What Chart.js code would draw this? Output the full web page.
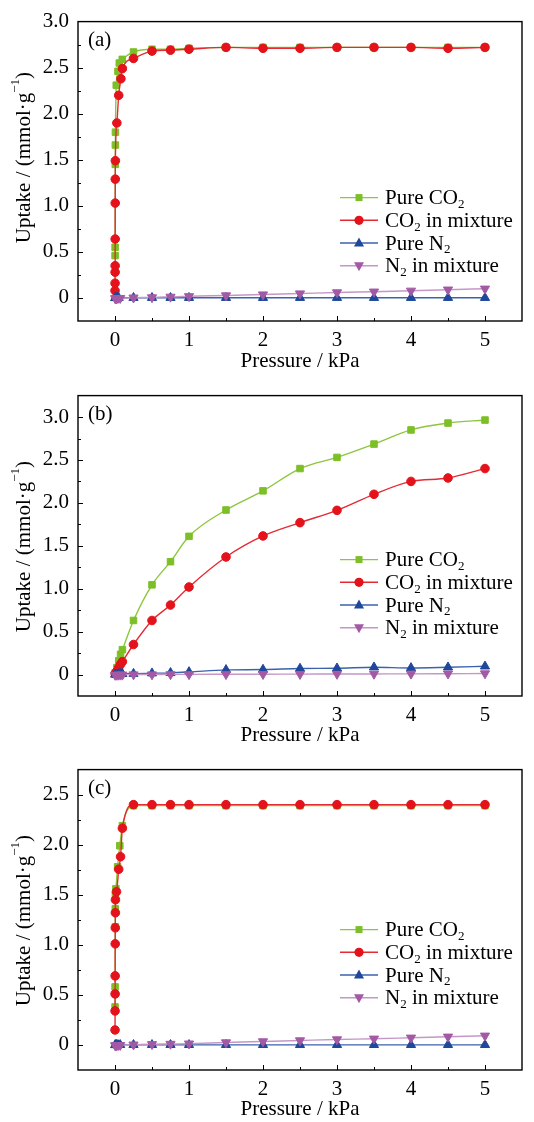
<!DOCTYPE html>
<html>
<head>
<meta charset="utf-8">
<script src="https://cdn.jsdelivr.net/npm/chart.js@4.4.1/dist/chart.umd.min.js"></script>
<style>
  html, body { margin: 0; padding: 0; background: #fff; }
  canvas { display: block; }
</style>
</head>
<body>
<canvas id="chartA" width="534" height="374"></canvas>
<canvas id="chartB" width="534" height="374"></canvas>
<canvas id="chartC" width="534" height="374"></canvas>
<script>
// ---- panel (a) ----
const aPureCO2X = [0.001, 0.0015, 0.004, 0.005, 0.006, 0.017, 0.04, 0.058, 0.098, 0.25, 0.5, 0.75, 1, 1.5, 2, 2.5, 3, 3.5, 4, 4.5, 5];
const aPureCO2Y = [0.46, 0.55, 1.45, 1.66, 1.80, 2.31, 2.46, 2.55, 2.59, 2.67, 2.70, 2.70, 2.71, 2.72, 2.72, 2.72, 2.72, 2.72, 2.72, 2.72, 2.72];
const aMixCO2X = [0.0005, 0.001, 0.0015, 0.002, 0.0025, 0.003, 0.004, 0.005, 0.025, 0.05, 0.08, 0.1, 0.25, 0.5, 0.75, 1, 1.5, 2, 2.5, 3, 3.5, 4, 4.5, 5];
const aMixCO2Y = [0.08, 0.16, 0.28, 0.35, 0.64, 1.03, 1.29, 1.49, 1.90, 2.20, 2.38, 2.49, 2.60, 2.68, 2.69, 2.70, 2.72, 2.71, 2.71, 2.72, 2.72, 2.72, 2.71, 2.72];
const aPureN2X = [0.002, 0.01, 0.02, 0.03, 0.05, 0.25, 0.5, 0.75, 1, 1.5, 2, 2.5, 3, 3.5, 4, 4.5, 5];
const aPureN2Y = [0, 0.002, 0.002, 0.002, 0.002, 0.002, 0.002, 0.002, 0.002, 0.002, 0.002, 0.002, 0.002, 0.002, 0.002, 0.002, 0.002];
const aMixN2X = [0.003, 0.01, 0.02, 0.04, 0.07, 0.25, 0.5, 0.75, 1, 1.5, 2, 2.5, 3, 3.5, 4, 4.5, 5];
const aMixN2Y = [-0.005, -0.005, -0.004, -0.003, -0.002, 0.003, 0.006, 0.012, 0.018, 0.027, 0.037, 0.048, 0.06, 0.068, 0.078, 0.09, 0.10];

// ---- panel (b) ----
const bCO2X = [0.002, 0.025, 0.05, 0.075, 0.1, 0.25, 0.5, 0.75, 1, 1.5, 2, 2.5, 3, 3.5, 4, 4.5, 5];
const bPureCO2Y = [0.02, 0.08, 0.16, 0.235, 0.29, 0.63, 1.045, 1.315, 1.61, 1.917, 2.14, 2.40, 2.53, 2.685, 2.85, 2.93, 2.965];
const bMixCO2Y = [0.01, 0.04, 0.08, 0.12, 0.15, 0.35, 0.63, 0.81, 1.02, 1.37, 1.615, 1.77, 1.913, 2.10, 2.25, 2.29, 2.40];
const bN2X = [0.002, 0.025, 0.05, 0.075, 0.1, 0.25, 0.5, 0.75, 1, 1.5, 2, 2.5, 3, 3.5, 4, 4.5, 5];
const bPureN2Y = [0, 0.003, 0.005, 0.007, 0.008, 0.01, 0.015, 0.02, 0.03, 0.054, 0.058, 0.07, 0.073, 0.085, 0.077, 0.085, 0.096];
const bMixN2Y = [-0.005, -0.005, -0.004, -0.003, -0.003, 0, 0, 0.002, 0.002, 0.003, 0.004, 0.005, 0.006, 0.007, 0.008, 0.01, 0.012];

// ---- panel (c) ----
const cPureCO2X = [0.0008, 0.0012, 0.003, 0.004, 0.006, 0.012, 0.035, 0.065, 0.1, 0.25, 0.5, 0.75, 1, 1.5, 2, 2.5, 3, 3.5, 4, 4.5, 5];
const cPureCO2Y = [0.38, 0.58, 1.18, 1.36, 1.50, 1.56, 1.78, 1.99, 2.19, 2.39, 2.39, 2.39, 2.39, 2.39, 2.39, 2.39, 2.39, 2.39, 2.39, 2.39, 2.39];
const cMixCO2X = [0.0005, 0.001, 0.0015, 0.002, 0.003, 0.004, 0.005, 0.006, 0.02, 0.05, 0.075, 0.1, 0.25, 0.5, 0.75, 1, 1.5, 2, 2.5, 3, 3.5, 4, 4.5, 5];
const cMixCO2Y = [0.15, 0.34, 0.51, 0.69, 1.01, 1.17, 1.32, 1.45, 1.53, 1.755, 1.88, 2.165, 2.40, 2.40, 2.40, 2.40, 2.40, 2.40, 2.40, 2.40, 2.40, 2.40, 2.40, 2.40];
const cN2X = [0.002, 0.01, 0.02, 0.04, 0.07, 0.25, 0.5, 0.75, 1, 1.5, 2, 2.5, 3, 3.5, 4, 4.5, 5];
const cPureN2Y = [0, 0.001, 0.001, 0.001, 0.001, 0.001, 0.001, 0.001, 0.001, 0.001, 0.001, 0.001, 0.001, 0.001, 0.001, 0.001, 0.001];
const cMixN2Y = [-0.005, -0.005, -0.004, -0.003, -0.002, 0.003, 0.007, 0.01, 0.013, 0.025, 0.035, 0.045, 0.055, 0.062, 0.072, 0.082, 0.092];

// ticks / text
const xTickLabels = [0, 1, 2, 3, 4, 5];
const seriesNames = [
  [['Pure CO', 0], ['2', 1]],
  [['CO', 0], ['2', 1], [' in mixture', 0]],
  [['Pure N', 0], ['2', 1]],
  [['N', 0], ['2', 1], [' in mixture', 0]]
];
const xTitle = 'Pressure / kPa';
const yTitleParts = [['Uptake / (mmol·g', 0], ['\u22121', 2], [')', 0]];

const FONT = "'Liberation Serif', 'Times New Roman', serif";
const markerColors = ['#7cbf26', '#e3121b', '#1f479b', '#a35aa5'];
const lineColors = ['#8dc63f', '#e42a33', '#3b62ad', '#c497c7'];
const markerStyles = ['rect', 'circle', 'up', 'down'];

function pts(xs, ys) {
  return xs.map((x, i) => ({ x: x, y: ys[i] }));
}

function makeDataset(idx, data) {
  const st = markerStyles[idx];
  return {
    label: seriesNames[idx].map(p => p[0]).join(''),
    data: data,
    borderColor: lineColors[idx],
    backgroundColor: markerColors[idx],
    pointBackgroundColor: markerColors[idx],
    pointBorderColor: markerColors[idx],
    pointBorderWidth: 1,
    borderWidth: 1.4,
    pointStyle: st === 'rect' ? 'rect' : st === 'circle' ? 'circle' : 'triangle',
    rotation: st === 'down' ? 180 : 0,
    pointRadius: st === 'rect' ? 4.6 : st === 'circle' ? 4.3 : 5.3,
    cubicInterpolationMode: 'monotone',
    order: 4 - idx
  };
}

function drawMarker(ctx, style, x, y, color) {
  ctx.fillStyle = color;
  ctx.beginPath();
  if (style === 'rect') {
    ctx.rect(x - 3.5, y - 3.5, 7, 7);
  } else if (style === 'circle') {
    ctx.arc(x, y, 4.6, 0, Math.PI * 2);
  } else if (style === 'up') {
    ctx.moveTo(x, y - 5.5); ctx.lineTo(x + 5, y + 3.5); ctx.lineTo(x - 5, y + 3.5); ctx.closePath();
  } else {
    ctx.moveTo(x, y + 5.5); ctx.lineTo(x + 5, y - 3.5); ctx.lineTo(x - 5, y - 3.5); ctx.closePath();
  }
  ctx.fill();
}

// draws text pieces; kind 0 normal, 1 subscript, 2 superscript
function drawParts(ctx, parts, x, y, size) {
  let cx = x;
  parts.forEach(([t, kind]) => {
    const s = kind ? Math.round(size * 0.62) : size;
    ctx.font = s + 'px ' + FONT;
    const dy = kind === 1 ? size * 0.28 : kind === 2 ? -size * 0.38 : 0;
    ctx.fillText(t, cx, y + dy);
    cx += ctx.measureText(t).width;
  });
  return cx - x;
}
function partsWidth(ctx, parts, size) {
  let w = 0;
  parts.forEach(([t, kind]) => {
    ctx.font = (kind ? Math.round(size * 0.62) : size) + 'px ' + FONT;
    w += ctx.measureText(t).width;
  });
  return w;
}

const decorations = {
  id: 'decorations',
  afterDraw(chart, args, opts) {
    const { ctx, chartArea: a, scales } = chart;
    ctx.save();
    // inward tick marks
    ctx.strokeStyle = '#000';
    ctx.lineWidth = 1;
    scales.x.ticks.forEach(t => {
      if (t.value <= scales.x.min + 1e-9 || t.value >= scales.x.max - 1e-9) return;
      const px = Math.round(scales.x.getPixelForValue(t.value)) + 0.5;
      const len = Number.isInteger(t.value) ? 5 : 3;
      ctx.beginPath(); ctx.moveTo(px, a.bottom); ctx.lineTo(px, a.bottom - len); ctx.stroke();
    });
    scales.y.ticks.forEach(t => {
      if (t.value <= scales.y.min + 1e-9 || t.value >= scales.y.max - 1e-9) return;
      const py = Math.round(scales.y.getPixelForValue(t.value)) + 0.5;
      const major = Math.abs(t.value * 2 - Math.round(t.value * 2)) < 1e-6;
      const len = major ? 5 : 3;
      ctx.beginPath(); ctx.moveTo(a.left, py); ctx.lineTo(a.left + len, py); ctx.stroke();
    });
    // frame
    ctx.lineWidth = 1.4;
    ctx.strokeRect(a.left, a.top, a.right - a.left, a.bottom - a.top);

    ctx.fillStyle = '#000';
    ctx.textBaseline = 'middle';
    ctx.textAlign = 'left';
    // panel tag
    ctx.font = '21px ' + FONT;
    ctx.fillText(opts.tag, a.left + 10, a.top + 19);

    // y title
    ctx.save();
    ctx.translate(24, a.top + opts.yTitleCenter);
    ctx.rotate(-Math.PI / 2);
    const w = partsWidth(ctx, yTitleParts, 21);
    ctx.fillStyle = '#000';
    drawParts(ctx, yTitleParts, -w / 2, 0, 21);
    ctx.restore();

    // legend
    seriesNames.forEach((parts, i) => {
      const y = a.top + opts.legendTop + i * 22.7;
      const x0 = a.left + 262;
      ctx.strokeStyle = lineColors[i];
      ctx.lineWidth = 1.4;
      ctx.beginPath(); ctx.moveTo(x0, y); ctx.lineTo(x0 + 38, y); ctx.stroke();
      drawMarker(ctx, markerStyles[i], x0 + 19, y, markerColors[i]);
      ctx.fillStyle = '#000';
      drawParts(ctx, parts, x0 + 45, y + 1, 21);
    });
    ctx.restore();
  }
};

function stepTicks(step) {
  return function (s) {
    const out = [];
    const n = Math.round((s.max - s.min) / step);
    for (let i = 0; i <= n; i++) out.push({ value: +(s.min + i * step).toFixed(4) });
    s.ticks = out;
  };
}

function makePanel(id, datasets, yMin, yMax, top, tag, legendTop, yTitleCenter) {
  new Chart(document.getElementById(id), {
    type: 'line',
    data: { datasets: datasets },
    options: {
      responsive: false,
      animation: false,
      devicePixelRatio: 1,
      layout: { padding: { top: top, right: 12, left: 0, bottom: 0 } },
      plugins: {
        legend: { display: false },
        tooltip: { enabled: false },
        decorations: { tag: tag, legendTop: legendTop, yTitleCenter: yTitleCenter }
      },
      scales: {
        x: {
          type: 'linear',
          min: -0.5,
          max: 5.5,
          afterBuildTicks: stepTicks(0.5),
          afterFit: s => { s.height = 374 - top - 303; },
          grid: { display: false, drawTicks: false },
          border: { display: false },
          ticks: {
            autoSkip: false,
            maxRotation: 0,
            padding: 7,
            color: '#000',
            font: { family: FONT, size: 21 },
            callback: v => xTickLabels.includes(v) ? String(v) : ''
          },
          title: {
            display: true,
            text: xTitle,
            color: '#000',
            font: { family: FONT, size: 21 },
            padding: { top: 0, bottom: 0 }
          }
        },
        y: {
          type: 'linear',
          min: yMin,
          max: yMax,
          afterBuildTicks: stepTicks(0.25),
          afterFit: s => { s.width = 78; },
          grid: { display: false, drawTicks: false },
          border: { display: false },
          ticks: {
            autoSkip: false,
            padding: 9,
            color: '#000',
            font: { family: FONT, size: 21 },
            callback: v => {
              if (v < -1e-9 || Math.abs(v * 2 - Math.round(v * 2)) > 1e-6) return '';
              return Math.abs(v) < 1e-9 ? '0' : v.toFixed(1);
            }
          }
        }
      }
    },
    plugins: [decorations]
  });
}

makePanel('chartA', [
  makeDataset(0, pts(aPureCO2X, aPureCO2Y)),
  makeDataset(1, pts(aMixCO2X, aMixCO2Y)),
  makeDataset(2, pts(aPureN2X, aPureN2Y)),
  makeDataset(3, pts(aMixN2X, aMixN2Y))
], -0.25, 3.0, 18, '(a)', 176, 136);

makePanel('chartB', [
  makeDataset(0, pts(bCO2X, bPureCO2Y)),
  makeDataset(1, pts(bCO2X, bMixCO2Y)),
  makeDataset(2, pts(bN2X, bPureN2Y)),
  makeDataset(3, pts(bN2X, bMixN2Y))
], -0.25, 3.25, 19, '(b)', 164, 151);

makePanel('chartC', [
  makeDataset(0, pts(cPureCO2X, cPureCO2Y)),
  makeDataset(1, pts(cMixCO2X, cMixCO2Y)),
  makeDataset(2, pts(cN2X, cPureN2Y)),
  makeDataset(3, pts(cN2X, cMixN2Y))
], -0.25, 2.75, 19, '(c)', 160, 151);
</script>
</body>
</html>
